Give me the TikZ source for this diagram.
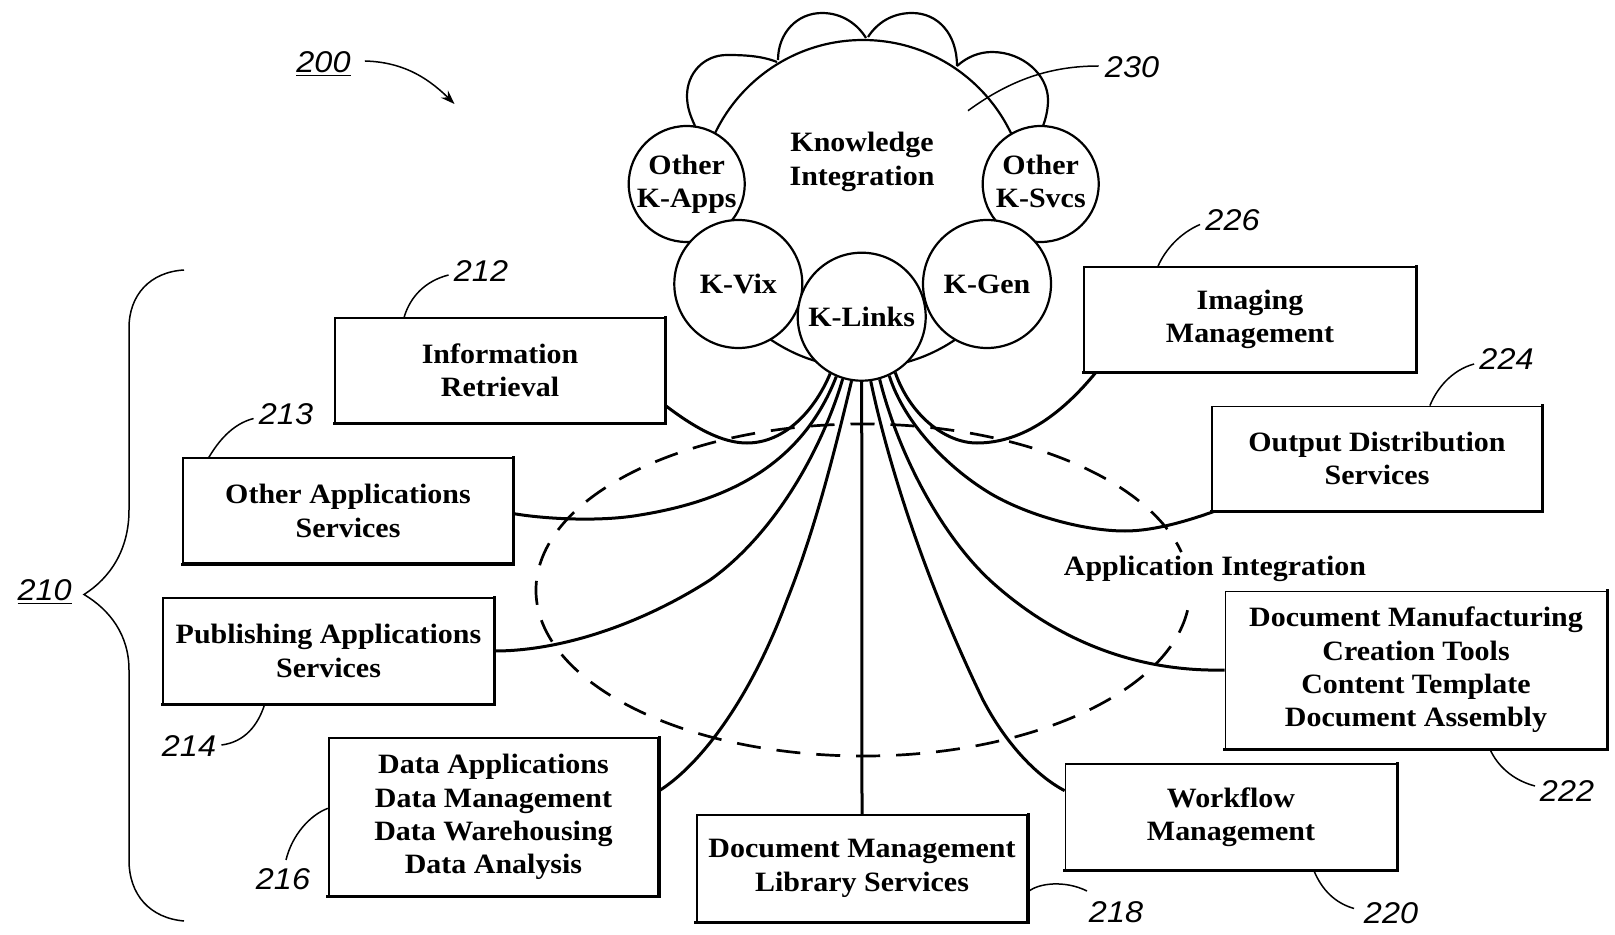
\documentclass[tikz,border=0pt]{standalone}
\usepackage{fontspec}
\setmainfont{Liberation Serif}[FakeStretch=1.07]
\newfontfamily\numfont{Liberation Sans}[FakeStretch=1.08]
\usetikzlibrary{arrows.meta}
\tikzset{
  bubble/.style={circle,draw=black,fill=white,line width=1.1pt,inner sep=0pt,align=center,
    font=\fontsize{14}{16.7}\selectfont\bfseries},
  box/.style={rectangle,draw=black,fill=white,line width=0.9pt,inner sep=0pt,align=center,
    font=\fontsize{14}{16.7}\selectfont\bfseries},
  heavy/.style={line width=1.5pt,line cap=rect},
  link/.style={line width=1.5pt,draw=black},
  lead/.style={line width=0.75pt,draw=black},
  num/.style={inner sep=0pt,font=\numfont\itshape\fontsize{15}{16}\selectfont},
  plain/.style={inner sep=0pt,align=center,font=\fontsize{14}{16.7}\selectfont\bfseries},
  lobe/.style={line width=1.1pt,draw=black}
}
\begin{document}
\begin{tikzpicture}[x=0.5pt,y=-0.5pt]
\useasboundingbox[fill=white] (0,0) rectangle (1615,935);
% main circle and lobes
\node[bubble,minimum size=164pt] (main) at (863,204) {};
\draw[lobe] (695,126) .. controls (691,117) and (687,108) .. (687,96) .. controls (687,73) and (704,55) .. (727,55) .. controls (745,55) and (762,56) .. (777,62);
\draw[lobe] (778,60) .. controls (778,33) and (797,13) .. (822,13) .. controls (843,13) and (858,25) .. (866,38);
\draw[lobe] (868,37) .. controls (877,23) and (892,13) .. (912,13) .. controls (938,13) and (957,34) .. (957,66);
\draw[lobe] (957,66) .. controls (967,57) and (979,52) .. (992,52) .. controls (1023,52) and (1048,75) .. (1048,100) .. controls (1048,109) and (1046,118) .. (1043,126);
\node[plain] (ktext) at (862,162) {Knowledge\\Integration};
% dashed ellipse
\coordinate (ellc) at (863,590);
\draw[line width=1.35pt,dash pattern=on 12pt off 8pt] (ellc) ++(7:327 and 166) arc[start angle=7,end angle=346.8,x radius=327,y radius=166];
% bubbles
\node[bubble,minimum size=58pt] (apps) at (686.7,184) {Other\\K-Apps};
\node[bubble,minimum size=58pt] (svcs) at (1040.7,184) {Other\\K-Svcs\vphantom{p}};
\node[bubble,minimum size=64pt] (kvix) at (738.3,284) {K-Vix};
\node[bubble,minimum size=64pt] (kgen) at (987,284) {K-Gen};
\node[bubble,minimum size=64pt] (klinks) at (861.7,316.7) {K-Links};
% boxes
\node[box,minimum width=164.75pt,minimum height=52.25pt] (ir) at (500,370.5) {Information\\Retrieval};
\node[box,minimum width=164.75pt,minimum height=52.5pt] (oas) at (348,510.75) {Other Applications\\Services};
\node[box,minimum width=165.25pt,minimum height=52.75pt] (pub) at (328.5,651) {Publishing Applications\\Services};
\node[box,minimum width=164.75pt,minimum height=79pt] (data) at (493.5,817) {Data Applications\\Data Management\\Data Warehousing\\Data Analysis};
\node[box,minimum width=165.25pt,minimum height=53.25pt] (docm) at (862,868.5) {Document Management\\Library Services};
\node[box,minimum width=165.5pt,minimum height=53pt] (wf) at (1231,817) {Workflow\\Management};
\node[box,minimum width=190.5pt,minimum height=78.5pt] (dman) at (1416,670) {Document Manufacturing\\Creation Tools\\Content Template\\Document Assembly};
\node[box,minimum width=164.75pt,minimum height=52pt] (out) at (1377,458.5) {Output Distribution\\Services};
\node[box,minimum width=165.75pt,minimum height=52.25pt] (img) at (1250,319.5) {Imaging\\Management};
\foreach \n in {ir,oas,pub,data,docm,wf,dman,out,img}
  \draw[heavy] (\n.south west) -- (\n.south east) -- (\n.north east);
% connectors
\draw[link] (ir.-12.8) .. controls (695,428) and (722,443) .. (747,443) .. controls (785,443) and (815,410) .. (klinks.241);
\draw[link] (oas.-1.1) .. controls (545,519) and (600,522) .. (640,515) .. controls (720,502) and (800,470) .. (klinks.247.6);
\draw[link] (pub.east) .. controls (560,651) and (640,625) .. (710,580) .. controls (780,530) and (825,440) .. (klinks.253);
\draw[link] (data.9.6) .. controls (700,765) and (750,700) .. (787,600) .. controls (815,530) and (835,450) .. (klinks.261);
\draw[link] (klinks.south) -- (docm.north);
\draw[link] (klinks.278) .. controls (885,450) and (920,570) .. (983,700) .. controls (1005,742) and (1035,775) .. (wf.171.8);
\draw[link] (klinks.286.5) .. controls (900,460) and (945,540) .. (993,583) .. controls (1060,643) and (1140,672) .. (dman.180.6);
\draw[link] (klinks.295) .. controls (905,425) and (950,470) .. (993,495) .. controls (1030,516) and (1085,531) .. (1125,531) .. controls (1155,531) and (1190,520) .. (out.198.3);
\draw[link] (klinks.301) .. controls (910,415) and (945,443) .. (977,443) .. controls (1025,443) and (1065,410) .. (img.199);
% plain label
\node[plain,fill=white,inner ysep=1pt] (appint) at (1215,569) {Application Integration};
% numbers
\node[num] (n200) at (323.5,64) {\underline{200}};
\node[num] (n210) at (44.6,592) {\underline{210}};
\node[num] (n212) at (481,271) {212};
\node[num] (n213) at (286,414.5) {213};
\node[num] (n214) at (189,746) {214};
\node[num] (n216) at (283,879) {216};
\node[num] (n218) at (1116,912) {218};
\node[num] (n220) at (1391,913) {220};
\node[num] (n222) at (1567,791) {222};
\node[num] (n224) at (1506.5,359) {224};
\node[num] (n226) at (1232.5,220.5) {226};
\node[num] (n230) at (1132,67) {230};
% leaders
\coordinate (a200) at (454.5,104);
\draw[lead,-{Stealth[length=7pt,width=5pt]}] (n200.east) ++(14,-3) .. controls (400,62) and (425,75) .. (a200);
\draw[lead] (184,270) .. controls (150,272) and (129,295) .. (129,328) -- (129,510) .. controls (129,550) and (110,578) .. (84,594.5) .. controls (110,610) and (129,635) .. (129,670) -- (129,860) .. controls (129,895) and (150,918) .. (184,921);
\draw[lead] (n212.west) ++(-5,4) .. controls (425,281) and (410,297) .. (ir.151);
\draw[lead] (n213.west) ++(-5,4) .. controls (232,424) and (218,442) .. (oas.159.3);
\draw[lead] (n214.east) ++(5,-1) .. controls (245,742) and (258,725) .. (pub.220);
\draw[lead] (n216.north) ++(3,-8) .. controls (292,835) and (310,815) .. (data.177.4);
\draw[lead] (docm.-8) .. controls (1038,883) and (1065,880) .. (1087,891);
\draw[lead] (wf.-33.8) .. controls (1322,890) and (1335,903) .. (1354,908.5);
\draw[lead] (dman.-47.6) .. controls (1497,765) and (1512,780) .. (1535,786);
\draw[lead] (n224.west) ++(-5,5) .. controls (1452,370) and (1437,388) .. (out.45.3);
\draw[lead] (n226.west) ++(-5,4) .. controls (1180,233) and (1165,250) .. (img.150.8);
\coordinate (e230) at (968,110.7);
\draw[lead] (n230.west) ++(-6,-1) .. controls (1050,66) and (1010,80) .. (e230);
\end{tikzpicture}
\end{document}
